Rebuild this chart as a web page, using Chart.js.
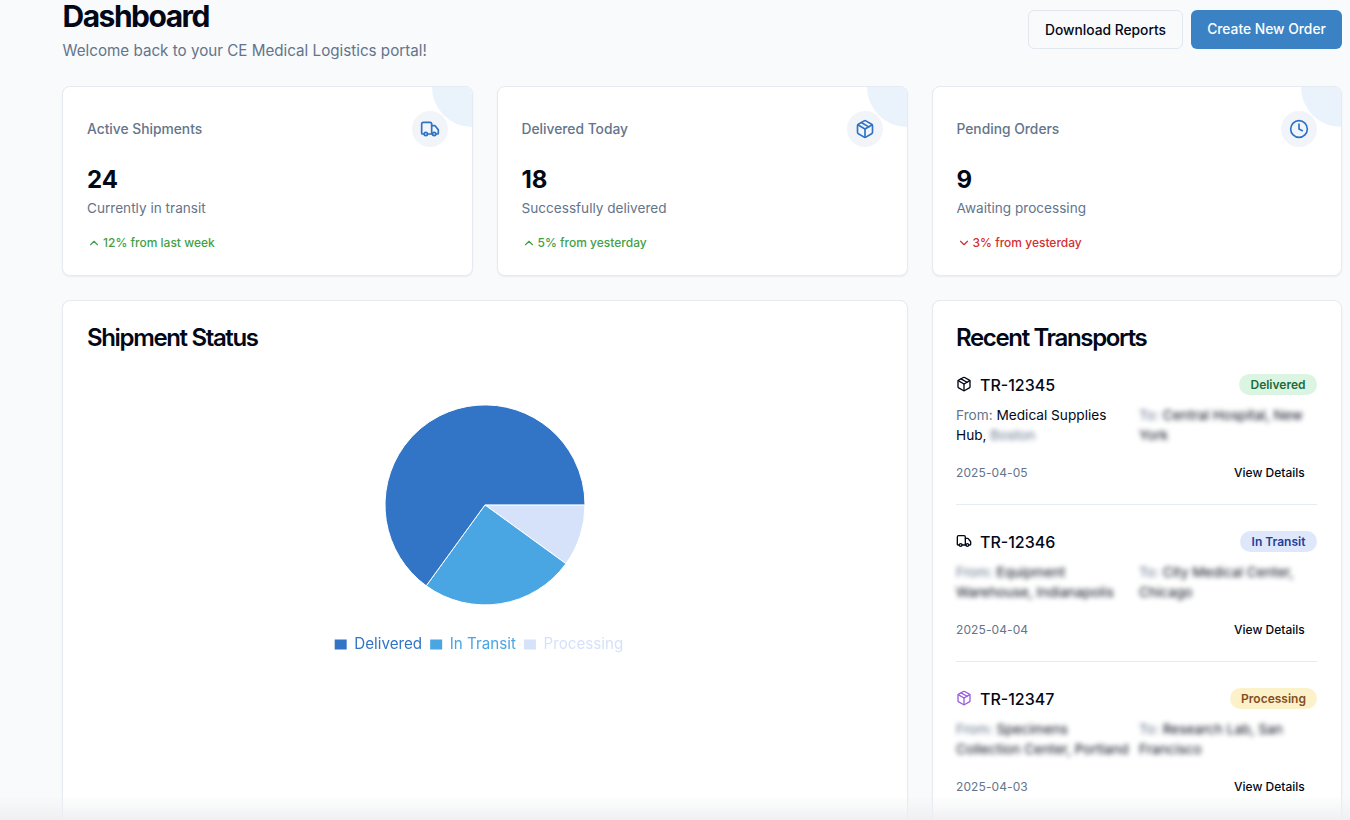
<!DOCTYPE html>
<html>
<head>
<meta charset="utf-8">
<title>Dashboard</title>
<script src="https://cdn.jsdelivr.net/npm/chart.js@4"></script>
<style>
    html, body { margin: 0; padding: 0; }
    body { width: 1350px; height: 820px; overflow: hidden; position: relative; background: #f8fafc; font-family: Inter, sans-serif; color: #020817; }
    .abs, .card, .btn, .dot, .corner { position: absolute; }
    .t { position: absolute; white-space: nowrap; line-height: 20px; }
    .card { background: #fff; border: 1px solid #e6ebf2; border-radius: 8px; box-shadow: 0 1px 2px rgba(15,23,42,.06); box-sizing: border-box; overflow: hidden; }
    .btn { height: 39px; top: 10px; border-radius: 6px; box-sizing: border-box; font-size: 13.8px; font-weight: 500; text-align: center; line-height: 39px; }
    .muted { color: #64748b; }
    .corner { width: 80px; height: 80px; border-radius: 50%; background: #eaf3fc; top: -40px; right: -40px; }
    .dot { width: 36px; height: 36px; border-radius: 50%; background: #f1f5f9; top: 24px; right: 24px; }
    .dot svg { position: absolute; left: 8px; top: 8px; }
    .label { left: 24px; top: 32px; font-size: 13.8px; font-weight: 500; color: #64748b; }
    .num { left: 24px; top: 78px; font-size: 24px; font-weight: 700; line-height: 30px; }
    .sub { left: 24px; top: 111px; font-size: 13.6px; color: #64748b; }
    .trend { left: 40px; top: 146px; font-size: 12px; font-weight: 500; }
    .trend-icon { position: absolute; left: 24px; top: 149px; }
    .h2 { font-size: 24px; font-weight: 600; letter-spacing: -1.35px; line-height: 32px; }
    .tr { font-size: 16px; font-weight: 500; left: 980px; }
    .badge { position: absolute; height: 21px; border-radius: 11px; font-size: 12px; font-weight: 600; line-height: 21px; text-align: center; }
    .small { font-size: 13.65px; color: #020817; }
    .date { font-size: 12px; color: #64748b; left: 956px; letter-spacing: 0.1px; }
    .view { font-size: 12px; font-weight: 500; left: 1234px; }
    .blur { filter: blur(2.5px); }
    .rule { position: absolute; left: 956px; width: 361px; height: 1px; background: #e6ebf2; }
    .fade { position: absolute; left: 0; top: 795px; width: 1350px; height: 25px; background: linear-gradient(rgba(240,241,243,0), rgba(238,239,241,.9)); }
</style>
</head>
<body>

<div class="t" style="left:62.5px;top:-2px;font-size:30px;font-weight:700;letter-spacing:-1.5px;line-height:36px">Dashboard</div>
<div class="t muted" style="left:62.5px;top:39px;font-size:15.2px;line-height:24px">Welcome back to your CE Medical Logistics portal!</div>
<div class="btn" style="left:1028px;width:155px;background:#f8fafc;border:1px solid #e2e8f0">Download Reports</div>
<div class="btn" style="left:1191px;width:151px;background:#3b82c4;color:#fff">Create New Order</div>

<div class="card" style="left:62px;top:86px;width:411px;height:190px">
    <div class="corner"></div>
    <div class="dot"><svg width="20" height="20" viewBox="0 0 24 24" fill="none" stroke="#2f73c4" stroke-width="2" stroke-linecap="round" stroke-linejoin="round"><path d="M14 18V6a2 2 0 0 0-2-2H4a2 2 0 0 0-2 2v11a1 1 0 0 0 1 1h2"/><path d="M15 18H9"/><path d="M19 18h2a1 1 0 0 0 1-1v-3.65a1 1 0 0 0-.22-.62l-3.48-4.35A1 1 0 0 0 17.52 8H14"/><circle cx="17" cy="18" r="2"/><circle cx="7" cy="18" r="2"/></svg></div>
    <div class="t label">Active Shipments</div>
    <div class="t num">24</div>
    <div class="t sub">Currently in transit</div>
    <svg class="trend-icon" width="14" height="14" viewBox="0 0 24 24" fill="none" stroke="#43a047" stroke-width="2" stroke-linecap="round" stroke-linejoin="round"><path d="m18 15-6-6-6 6"/></svg>
    <div class="t trend" style="color:#43a047">12% from last week</div>
</div>

<div class="card" style="left:496.5px;top:86px;width:411.5px;height:190px">
    <div class="corner"></div>
    <div class="dot"><svg width="20" height="20" viewBox="0 0 24 24" fill="none" stroke="#2f73c4" stroke-width="2" stroke-linecap="round" stroke-linejoin="round"><path d="M21 8a2 2 0 0 0-1-1.73l-7-4a2 2 0 0 0-2 0l-7 4A2 2 0 0 0 3 8v8a2 2 0 0 0 1 1.73l7 4a2 2 0 0 0 2 0l7-4A2 2 0 0 0 21 16Z"/><path d="m3.3 7 8.7 5 8.7-5"/><path d="M12 22V12"/><path d="m7.5 4.27 9 5.15"/></svg></div>
    <div class="t label">Delivered Today</div>
    <div class="t num">18</div>
    <div class="t sub">Successfully delivered</div>
    <svg class="trend-icon" width="14" height="14" viewBox="0 0 24 24" fill="none" stroke="#43a047" stroke-width="2" stroke-linecap="round" stroke-linejoin="round"><path d="m18 15-6-6-6 6"/></svg>
    <div class="t trend" style="color:#43a047">5% from yesterday</div>
</div>

<div class="card" style="left:931.5px;top:86px;width:410.5px;height:190px">
    <div class="corner"></div>
    <div class="dot"><svg width="20" height="20" viewBox="0 0 24 24" fill="none" stroke="#2f73c4" stroke-width="2" stroke-linecap="round" stroke-linejoin="round"><circle cx="12" cy="12" r="10"/><path d="M12 6v6l4 2"/></svg></div>
    <div class="t label">Pending Orders</div>
    <div class="t num">9</div>
    <div class="t sub">Awaiting processing</div>
    <svg class="trend-icon" width="14" height="14" viewBox="0 0 24 24" fill="none" stroke="#d32f2f" stroke-width="2" stroke-linecap="round" stroke-linejoin="round"><path d="m6 9 6 6 6-6"/></svg>
    <div class="t trend" style="color:#d32f2f">3% from yesterday</div>
</div>

<div class="card" style="left:62px;top:300px;width:846px;height:560px">
    <div class="t h2" style="left:24px;top:21px">Shipment Status</div>
    <div class="abs" style="left:0;top:80px;width:844px;height:281px"><canvas id="statusChart"></canvas></div>
</div>

<div class="card" style="left:931.5px;top:300px;width:410.5px;height:560px">
    <div class="t h2" style="left:23.5px;top:21px">Recent Transports</div>
</div>

<!-- first transport -->
<svg class="abs" style="left:956px;top:376px" width="16" height="16" viewBox="0 0 24 24" fill="none" stroke="#020817" stroke-width="2" stroke-linecap="round" stroke-linejoin="round"><path d="M21 8a2 2 0 0 0-1-1.73l-7-4a2 2 0 0 0-2 0l-7 4A2 2 0 0 0 3 8v8a2 2 0 0 0 1 1.73l7 4a2 2 0 0 0 2 0l7-4A2 2 0 0 0 21 16Z"/><path d="m3.3 7 8.7 5 8.7-5"/><path d="M12 22V12"/><path d="m7.5 4.27 9 5.15"/></svg>
<div class="t tr" style="top:375px">TR-12345</div>
<div class="badge" style="left:1239px;top:374px;width:78px;background:#dcf5e3;color:#1f6b3a">Delivered</div>
<div class="t small" style="left:956px;top:404.5px"><span class="muted">From:</span> Medical Supplies</div>
<div class="t small" style="left:956px;top:424.5px">Hub, <span class="blur muted" style="display:inline-block">Boston</span></div>
<div class="t small blur" style="left:1139px;top:404.5px"><span class="muted">To:</span> Central Hospital, New</div>
<div class="t small blur" style="left:1139px;top:424.5px">York</div>
<div class="t date" style="top:463px">2025-04-05</div>
<div class="t view" style="top:463px">View Details</div>
<div class="rule" style="top:504px"></div>

<!-- second transport -->
<svg class="abs" style="left:956px;top:533px" width="16" height="16" viewBox="0 0 24 24" fill="none" stroke="#020817" stroke-width="2" stroke-linecap="round" stroke-linejoin="round"><path d="M14 18V6a2 2 0 0 0-2-2H4a2 2 0 0 0-2 2v11a1 1 0 0 0 1 1h2"/><path d="M15 18H9"/><path d="M19 18h2a1 1 0 0 0 1-1v-3.65a1 1 0 0 0-.22-.62l-3.48-4.35A1 1 0 0 0 17.52 8H14"/><circle cx="17" cy="18" r="2"/><circle cx="7" cy="18" r="2"/></svg>
<div class="t tr" style="top:532px">TR-12346</div>
<div class="badge" style="left:1240px;top:531px;width:77px;background:#dfe8fb;color:#24409a">In Transit</div>
<div class="t small blur" style="left:956px;top:561.5px"><span class="muted">From:</span> Equipment</div>
<div class="t small blur" style="left:956px;top:581.5px">Warehouse, Indianapolis</div>
<div class="t small blur" style="left:1139px;top:561.5px"><span class="muted">To:</span> City Medical Center,</div>
<div class="t small blur" style="left:1139px;top:581.5px">Chicago</div>
<div class="t date" style="top:620px">2025-04-04</div>
<div class="t view" style="top:620px">View Details</div>
<div class="rule" style="top:661px"></div>

<!-- third transport -->
<svg class="abs" style="left:956px;top:690px" width="16" height="16" viewBox="0 0 24 24" fill="none" stroke="#9a5fe0" stroke-width="2" stroke-linecap="round" stroke-linejoin="round"><path d="M21 8a2 2 0 0 0-1-1.73l-7-4a2 2 0 0 0-2 0l-7 4A2 2 0 0 0 3 8v8a2 2 0 0 0 1 1.73l7 4a2 2 0 0 0 2 0l7-4A2 2 0 0 0 21 16Z"/><path d="m3.3 7 8.7 5 8.7-5"/><path d="M12 22V12"/><path d="m7.5 4.27 9 5.15"/></svg>
<div class="t tr" style="top:689px">TR-12347</div>
<div class="badge" style="left:1230px;top:688px;width:87px;background:#fcf2c9;color:#854d1e">Processing</div>
<div class="t small blur" style="left:956px;top:718.5px"><span class="muted">From:</span> Specimens</div>
<div class="t small blur" style="left:956px;top:738.5px">Collection Center, Portland</div>
<div class="t small blur" style="left:1139px;top:718.5px"><span class="muted">To:</span> Research Lab, San</div>
<div class="t small blur" style="left:1139px;top:738.5px">Francisco</div>
<div class="t date" style="top:777px">2025-04-03</div>
<div class="t view" style="top:777px">View Details</div>

<div class="fade"></div>

<script>
    // Slices run clockwise from 3 o'clock, so they are listed backwards; the legend is flipped back
    const categories = ["Processing", "In Transit", "Delivered"];
    const shipmentShare = [10, 25, 65];
    const sliceColors = ["#d6e2fa", "#4aa5e3", "#3275c6"];

    // the legend sits a little left of the pie centre, not right under it
    const nudgeLegend = {
        id: "nudgeLegend",
        afterLayout: function (chart) {
            chart.legend.left -= 6;
            chart.legend.right -= 6;
        }
    };

    new Chart(document.getElementById("statusChart"), {
        type: "pie",
        plugins: [nudgeLegend],
        data: {
            labels: categories,
            datasets: [{
                data: shipmentShare,
                backgroundColor: sliceColors,
                borderColor: "#ffffff",
                borderWidth: 1,
                radius: 100
            }]
        },
        options: {
            responsive: true,
            maintainAspectRatio: false,
            animation: false,
            rotation: 90,
            plugins: {
                tooltip: { enabled: false },
                legend: {
                    position: "bottom",
                    reverse: true,
                    labels: {
                        boxWidth: 12,
                        boxHeight: 10,
                        padding: 8,
                        font: { family: "Inter", size: 15.2 },
                        generateLabels: function (chart) {
                            const items = Chart.overrides.pie.plugins.legend.labels.generateLabels(chart);
                            items.forEach(function (item, i) {
                                item.fontColor = sliceColors[i];
                                item.lineWidth = 0;
                            });
                            return items;
                        }
                    }
                }
            }
        }
    });
</script>
</body>
</html>
